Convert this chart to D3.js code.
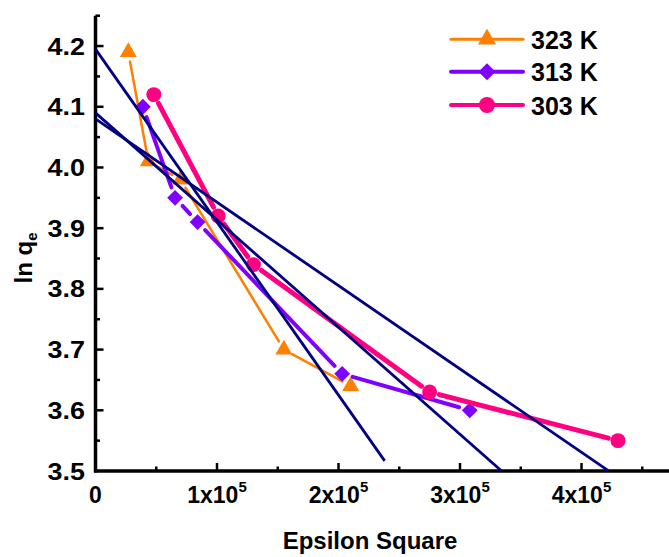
<!DOCTYPE html>
<html>
<head>
<meta charset="utf-8">
<script src="https://cdn.jsdelivr.net/npm/d3@7"></script>
<style>
  html, body { margin: 0; padding: 0; background: #fff; }
  svg { display: block; }
  text { font-family: "Liberation Sans", Arial, sans-serif; font-weight: bold; fill: #000; }
</style>
</head>
<body>
<svg id="chart" width="669" height="557"></svg>
<script>
// ---- Data ----
const seriesNames = ["323 K", "313 K", "303 K"];
const x323 = [0.27e5, 0.435e5, 0.70e5, 1.55e5, 2.10e5];
const y323 = [4.19, 4.01, 3.98, 3.70, 3.64];
const x313 = [0.39e5, 0.655e5, 0.84e5, 2.03e5, 3.08e5];
const y313 = [4.10, 3.95, 3.91, 3.66, 3.60];
const x303 = [0.48e5, 1.01e5, 1.30e5, 2.75e5, 4.30e5];
const y303 = [4.12, 3.92, 3.84, 3.63, 3.55];

// Linear fit lines: y = intercept + slope * x, drawn from x = 0 to xEnd
const fitIntercept = [4.195, 4.09, 4.08];
const fitSlope = [-2.85e-6, -1.765e-6, -1.373e-6];
const fitXEnd = [2.38e5, 3.34e5, 4.22e5];

const xTickValues = [0, 1e5, 2e5, 3e5, 4e5];
const xTickMantissa = ["0", "1", "2", "3", "4"];
const yTickValues = [3.5, 3.6, 3.7, 3.8, 3.9, 4.0, 4.1, 4.2];
const yTickLabels = ["3.5", "3.6", "3.7", "3.8", "3.9", "4.0", "4.1", "4.2"];

// ---- Setup ----
const svg = d3.select("#chart");
const x = d3.scaleLinear().domain([0, 4.72e5]).range([95.5, 669]);
const y = d3.scaleLinear().domain([3.5, 4.25]).range([471, 15.7]);

const colors = ["#ff8000", "#8000ff", "#ff0080"];
const lineWidths = [2.5, 4, 5];
const shapes = [d3.symbolTriangle, d3.symbolSquare, d3.symbolCircle];
const symSizes = [125, 125, 175];
const symRotate = [0, 45, 0];
const markerR = [7, 8.5, 7.5];
const navy = "#000080";

const series = [
  x323.map((v, i) => [v, y323[i]]),
  x313.map((v, i) => [v, y313[i]]),
  x303.map((v, i) => [v, y303[i]])
];

// ---- Axes ----
const axisG = svg.append("g");
const xMinor = d3.range(0.5e5, 4.6e5, 1e5);
const yMinor = d3.range(3.55, 4.25, 0.1);

axisG.selectAll(".xmaj").data(xTickValues.slice(1)).join("line")
  .attr("x1", d => x(d)).attr("x2", d => x(d))
  .attr("y1", y(3.5)).attr("y2", y(3.5) - 8)
  .attr("stroke", "#000").attr("stroke-width", 2.5);
axisG.selectAll(".xmin").data(xMinor).join("line")
  .attr("x1", d => x(d)).attr("x2", d => x(d))
  .attr("y1", y(3.5)).attr("y2", y(3.5) - 4.5)
  .attr("stroke", "#000").attr("stroke-width", 2.5);
axisG.selectAll(".ymaj").data(yTickValues.slice(1)).join("line")
  .attr("x1", x(0)).attr("x2", x(0) + 8)
  .attr("y1", d => y(d)).attr("y2", d => y(d))
  .attr("stroke", "#000").attr("stroke-width", 2.5);
axisG.selectAll(".ymin").data(yMinor).join("line")
  .attr("x1", x(0)).attr("x2", x(0) + 4.5)
  .attr("y1", d => y(d)).attr("y2", d => y(d))
  .attr("stroke", "#000").attr("stroke-width", 2.5);

axisG.append("line")
  .attr("x1", x(0) - 1.5).attr("x2", 669)
  .attr("y1", y(3.5)).attr("y2", y(3.5))
  .attr("stroke", "#000").attr("stroke-width", 3.5);
axisG.append("line")
  .attr("x1", x(0)).attr("x2", x(0))
  .attr("y1", y(3.5) + 1.5).attr("y2", y(4.25))
  .attr("stroke", "#000").attr("stroke-width", 3.5);

// Y tick labels (slightly wide lettering as in the reference)
axisG.selectAll(".ylab").data(yTickValues).join("g")
  .attr("transform", d => `translate(85,${y(d) + 8.5}) scale(1.17,1)`)
  .append("text")
  .attr("text-anchor", "end").attr("font-size", 23)
  .text((d, i) => yTickLabels[i]);

// X tick labels
xTickValues.forEach((v, i) => {
  const t = axisG.append("text")
    .attr("x", x(v)).attr("y", 503)
    .attr("text-anchor", "middle").attr("font-size", 23);
  if (v === 0) {
    t.text(xTickMantissa[i]);
  } else {
    t.append("tspan").text(xTickMantissa[i] + "x10");
    t.append("tspan").attr("font-size", 15).attr("dy", -11).text("5");
  }
});

// Axis titles
svg.append("text")
  .attr("x", 370).attr("y", 549)
  .attr("text-anchor", "middle").attr("font-size", 24)
  .text("Epsilon Square");
const yt = svg.append("text")
  .attr("transform", "translate(32,258) rotate(-90)")
  .attr("text-anchor", "middle").attr("font-size", 24);
yt.append("tspan").text("ln q");
yt.append("tspan").attr("font-size", 15).attr("dy", 5).text("e");

// ---- Data series with gaps around markers ----
const plotG = svg.append("g");
series.forEach((pts, si) => {
  const g = plotG.append("g");
  const gap = markerR[si] + 2.5;
  for (let k = 0; k < pts.length - 1; k++) {
    const x1 = x(pts[k][0]), y1 = y(pts[k][1]);
    const x2 = x(pts[k + 1][0]), y2 = y(pts[k + 1][1]);
    const len = Math.hypot(x2 - x1, y2 - y1);
    if (len <= 2 * gap) continue;
    const ux = (x2 - x1) / len, uy = (y2 - y1) / len;
    g.append("line")
      .attr("x1", x1 + ux * gap).attr("y1", y1 + uy * gap)
      .attr("x2", x2 - ux * gap).attr("y2", y2 - uy * gap)
      .attr("stroke", colors[si]).attr("stroke-width", lineWidths[si])
      .attr("stroke-linecap", "round");
  }
  g.selectAll("path").data(pts).join("path")
    .attr("transform", d => `translate(${x(d[0])},${y(d[1])}) rotate(${symRotate[si]})`)
    .attr("d", d3.symbol().type(shapes[si]).size(symSizes[si]))
    .attr("fill", colors[si]);
});

// ---- Fit lines ----
const fitG = svg.append("g");
fitIntercept.forEach((b, i) => {
  const pts = [[0, b], [fitXEnd[i], b + fitSlope[i] * fitXEnd[i]]];
  fitG.append("path")
    .attr("d", d3.line().x(d => x(d[0])).y(d => y(d[1]))(pts))
    .attr("stroke", navy).attr("stroke-width", 2.8).attr("fill", "none");
});

// ---- Legend ----
const legRows = [39.3, 71.7, 105];
const leg = svg.append("g");
seriesNames.forEach((name, i) => {
  leg.append("line")
    .attr("x1", 451).attr("x2", 523)
    .attr("y1", legRows[i]).attr("y2", legRows[i])
    .attr("stroke", colors[i]).attr("stroke-width", lineWidths[i] === 2.5 ? 3 : 4)
    .attr("stroke-linecap", "round");
  leg.append("path")
    .attr("transform", `translate(487,${legRows[i]}) rotate(${symRotate[i]})`)
    .attr("d", d3.symbol().type(shapes[i]).size(symSizes[i] * 1.15))
    .attr("fill", colors[i]);
  leg.append("text")
    .attr("x", 531).attr("y", legRows[i] + 9.5)
    .attr("font-size", 25)
    .text(name);
});
</script>
</body>
</html>
